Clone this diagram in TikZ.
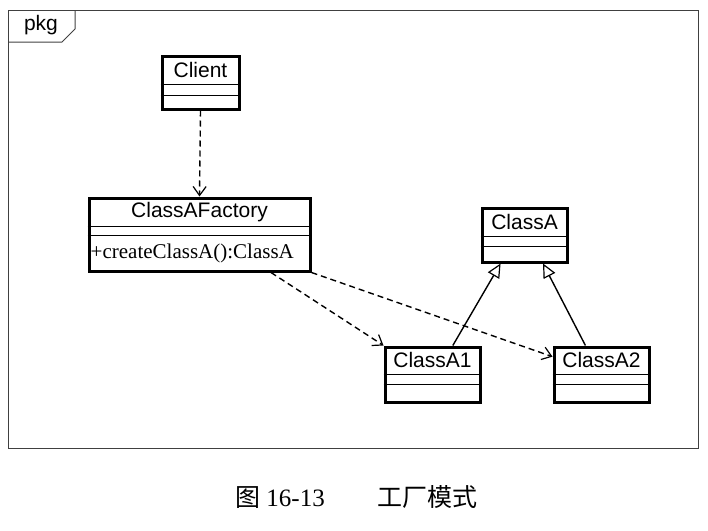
\documentclass[tikz,border=0pt]{standalone}
\usepackage{fontspec}
\setmainfont{Liberation Serif}
\setsansfont{Liberation Sans}
\newfontfamily\cjk{Noto Sans CJK SC}
\usetikzlibrary{arrows.meta}

\tikzset{
  classbox/.style={draw, line width=3pt, inner sep=0pt},
  classname/.style={anchor=north, inner sep=0pt, minimum height=#1, font=\sffamily\fontsize{21}{24}\selectfont},
  sep/.style={line width=1.4pt},
  depend/.style={line width=1.4pt, dash pattern=on 6pt off 4pt, -{Straight Barb[length=9pt, width=13pt, line width=1.2pt]}},
  inherit/.style={line width=1.4pt, -{Triangle[open, fill=white, length=14pt, width=13pt, line width=1.2pt]}}
}

\begin{document}
\begin{tikzpicture}[x=1pt, y=-1pt]
    \useasboundingbox (0,0) rectangle (708,530);
    \def \namepart {30pt}

    % package frame
    \draw [black!75, line width=1pt] (8,10) rectangle (698,448);
    \draw [black!75, line width=1pt] (8,42) -- (62,42) -- (75,29) -- (75,10);
    \node [font=\sffamily\fontsize{21}{24}\selectfont] (pkg) at (41,25) {pkg};

    % classes
    \node [classbox, minimum width=77pt, minimum height=53pt] (client) at (200.5,82.5) {};
    \node [classname=\namepart] (clientname) at (client.north) {Client};
    \draw [sep] ([yshift=-30pt]client.north west) -- ([yshift=-30pt]client.north east);
    \draw [sep] ([yshift=-41pt]client.north west) -- ([yshift=-41pt]client.north east);

    \node [classbox, minimum width=221pt, minimum height=73pt] (factory) at (199.5,234.5) {};
    \node [classname=\namepart] (factoryname) at (factory.north) {ClassAFactory};
    \draw [sep] ([yshift=-30pt]factory.north west) -- ([yshift=-30pt]factory.north east);
    \draw [sep] ([yshift=-39pt]factory.north west) -- ([yshift=-39pt]factory.north east);
    \node [anchor=west, inner sep=0pt, font=\fontsize{21}{24}\selectfont] (factoryop) at ([xshift=3pt, yshift=-19pt]factory.west) {+createClassA():ClassA};

    \node [classbox, minimum width=85pt, minimum height=54pt] (classa) at (524.5,235) {};
    \node [classname=\namepart] (classaname) at (classa.north) {ClassA};
    \draw [sep] ([yshift=-30pt]classa.north west) -- ([yshift=-30pt]classa.north east);
    \draw [sep] ([yshift=-40pt]classa.north west) -- ([yshift=-40pt]classa.north east);

    \node [classbox, minimum width=95pt, minimum height=55pt] (classai) at (432.5,374.5) {};
    \node [classname=29pt] (classainame) at (classai.north) {ClassA1};
    \draw [sep] ([yshift=-29pt]classai.north west) -- ([yshift=-29pt]classai.north east);
    \draw [sep] ([yshift=-39pt]classai.north west) -- ([yshift=-39pt]classai.north east);

    \node [classbox, minimum width=95pt, minimum height=55pt] (classaii) at (601.5,374.5) {};
    \node [classname=29pt] (classaiiname) at (classaii.north) {ClassA2};
    \draw [sep] ([yshift=-29pt]classaii.north west) -- ([yshift=-29pt]classaii.north east);
    \draw [sep] ([yshift=-39pt]classaii.north west) -- ([yshift=-39pt]classaii.north east);

    % relations
    \draw [depend] (client.south) -- (factory.north);
    \draw [depend] (factory.-28) -- (classai.north west);
    \draw [depend] (factory.south east) -- (classaii.160);
    \draw [inherit] (classai.55) -- (classa.-130);
    \draw [inherit] (classaii.119) -- (classa.-57);

    % caption
    \node [anchor=base west, inner sep=0pt, font=\fontsize{25}{28}\selectfont] (capnum) at (235,506) {{\cjk 图} 16-13};
    \node [anchor=base west, inner sep=0pt, font=\fontsize{25}{28}\selectfont] (captitle) at (377,506) {\cjk 工厂模式};
\end{tikzpicture}
\end{document}
